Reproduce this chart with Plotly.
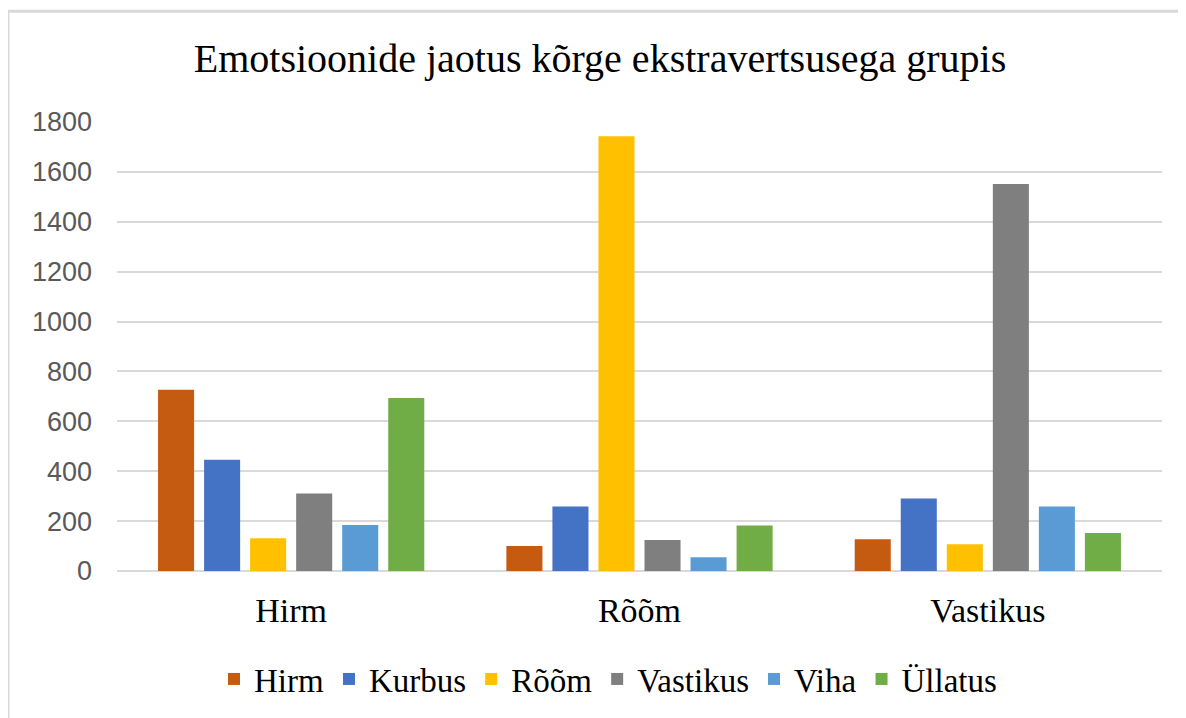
import plotly.graph_objects as go

categories = ["Hirm", "Rõõm", "Vastikus"]
series_names = ["Hirm", "Kurbus", "Rõõm", "Vastikus", "Viha", "Üllatus"]
hirm = [727, 100, 127]
kurbus = [446, 259, 291]
room = [131, 1743, 107]
vastikus = [311, 124, 1551]
viha = [184, 55, 259]
ullatus = [694, 182, 152]
colors = ["#C55A11", "#4472C4", "#FFC000", "#7F7F7F", "#5B9BD5", "#70AD47"]
series_values = [hirm, kurbus, room, vastikus, viha, ullatus]
y_ticks = [0, 200, 400, 600, 800, 1000, 1200, 1400, 1600, 1800]

fig = go.Figure()
for name, vals, col in zip(series_names, series_values, colors):
    fig.add_trace(go.Bar(x=categories, y=vals, name=name,
                         marker=dict(color=col, line=dict(width=0))))

# page has an 8px body margin, so work in figure coordinates
OFF = 8
W, H = 1186 - OFF, 718 - OFF
L, R, T, B = 117 - OFF, 24, 122 - OFF, 146
pw = W - L - R
ph = H - T - B


def px_x(page_x):
    return (page_x - OFF - L) / pw


def px_y(page_y):
    return (H - B - (page_y - OFF)) / ph


fig.update_layout(
    width=W, height=H,
    margin=dict(l=L, r=R, t=T, b=B),
    paper_bgcolor="white", plot_bgcolor="white",
    barmode="group", bargap=0.207, bargroupgap=0.217,
    title=dict(text="Emotsioonide jaotus kõrge ekstravertsusega grupis",
               font=dict(family="Liberation Serif", size=40, color="#000000"),
               x=(600 - OFF) / W, xanchor="center", xref="container",
               y=1 - (58 - OFF) / H, yanchor="middle", yref="container"),
    legend=dict(orientation="h", x=px_x(608), xanchor="center",
                y=px_y(679), yanchor="middle",
                font=dict(family="Liberation Serif", size=33, color="#000000"),
                itemclick=False),
    xaxis=dict(showgrid=False, showline=False, ticks="",
               tickfont=dict(family="Liberation Serif", size=34, color="#000000"),
               ticklabelstandoff=16),
    yaxis=dict(range=[0, 1800], tickvals=y_ticks, showgrid=True,
               gridcolor="#D9D9D9", gridwidth=2, zeroline=True,
               zerolinecolor="#D9D9D9", zerolinewidth=2, ticks="",
               tickfont=dict(family="Liberation Sans", size=27, color="#595959"),
               ticklabelstandoff=24),
    shapes=[
        dict(type="line", xref="paper", yref="paper",
             x0=px_x(8), x1=px_x(1195), y0=px_y(11), y1=px_y(11),
             line=dict(color="#D9D9D9", width=3)),
        dict(type="line", xref="paper", yref="paper",
             x0=px_x(8), x1=px_x(8), y0=px_y(11), y1=px_y(725),
             line=dict(color="#D9D9D9", width=3)),
    ],
)

fig.write_html("out.html")
